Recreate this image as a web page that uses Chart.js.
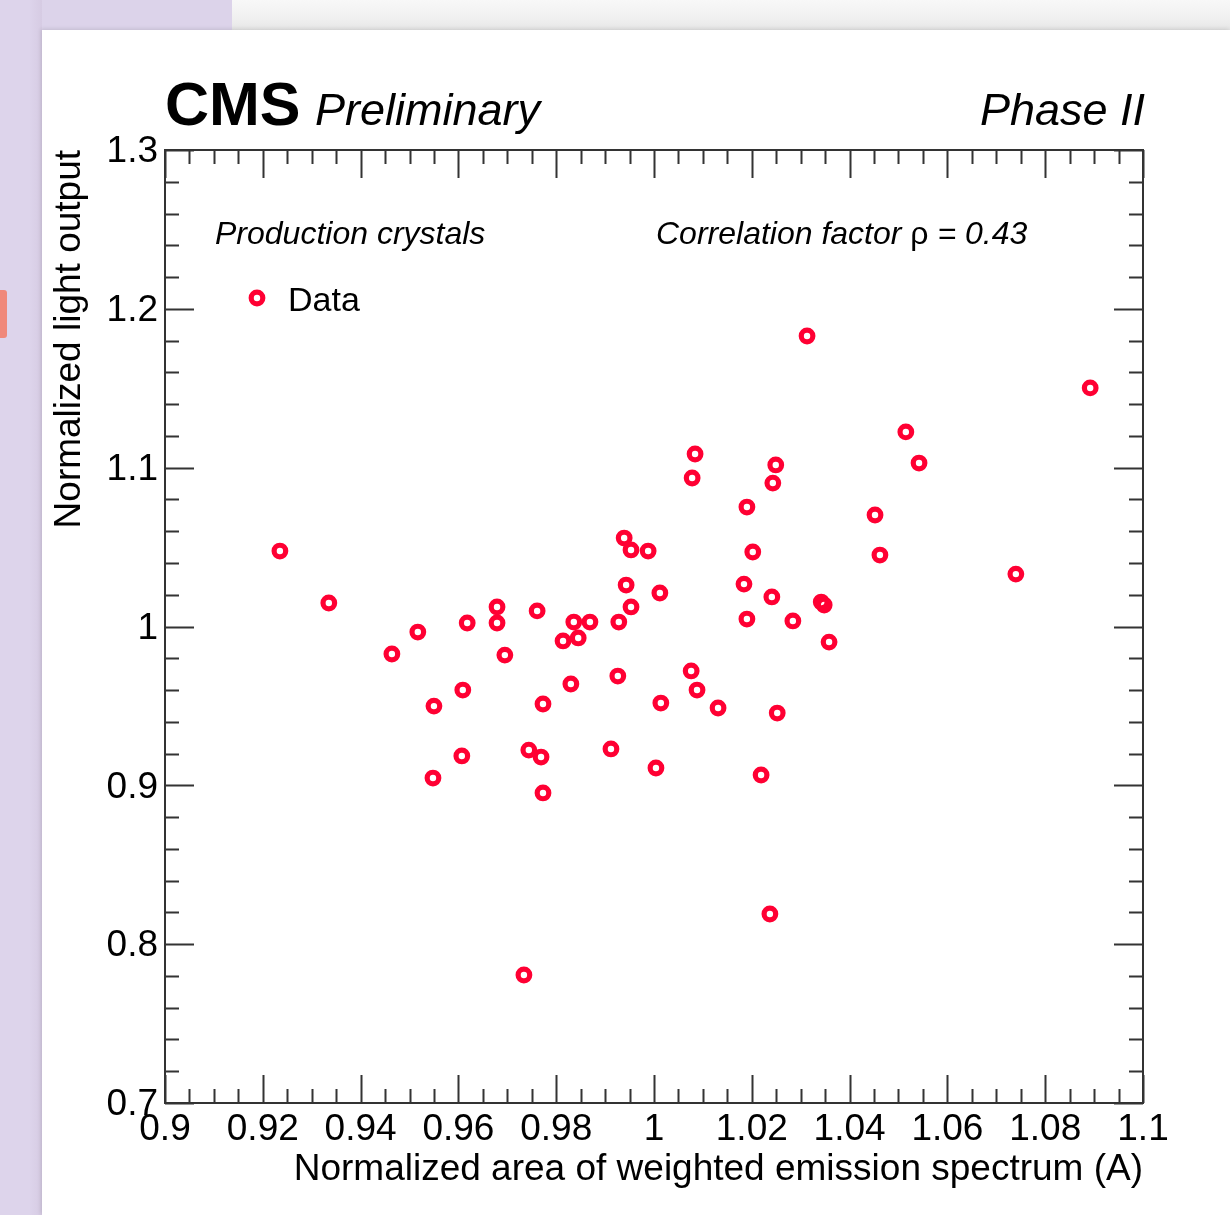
<!DOCTYPE html>
<html>
<head>
<meta charset="utf-8">
<script src="https://cdn.jsdelivr.net/npm/chart.js@4.4.1/dist/chart.umd.min.js"></script>
<style>
  body { margin: 0; background: #fff; width: 1230px; height: 1215px; overflow: hidden; position: relative; }
  .bg { position: absolute; }
  #lavTop { left: 0; top: 0; width: 232px; height: 30px; background: #dcd3ea; }
  #grayTop { left: 232px; top: 0; width: 998px; height: 30px; background: linear-gradient(#f8f8f8, #f0f0f0 60%, #e6e6e6); }
  #lavLeft { left: 0; top: 0; width: 42px; height: 1215px; background: linear-gradient(90deg, #ddd4eb 70%, #d6cbe3); }
  #salmon { left: 0; top: 290px; width: 7px; height: 48px; background: #f0887a; border-radius: 0 3px 3px 0; }
  #panel { left: 42px; top: 30px; width: 1188px; height: 1185px; background: #fff; box-shadow: -1px -1px 4px rgba(0,0,0,0.12); }
  canvas { position: absolute; left: 0; top: 0; }
</style>
</head>
<body>
<div class="bg" id="lavTop"></div>
<div class="bg" id="grayTop"></div>
<div class="bg" id="lavLeft"></div>
<div class="bg" id="salmon"></div>
<div class="bg" id="panel"></div>
<canvas id="myChart" width="1230" height="1215"></canvas>
<script>
'use strict';
// tick values and labels
let xTickValues = [0.9, 0.92, 0.94, 0.96, 0.98, 1, 1.02, 1.04, 1.06, 1.08, 1.1];
let xTickLabels = ['0.9', '0.92', '0.94', '0.96', '0.98', '1', '1.02', '1.04', '1.06', '1.08', '1.1'];
let yTickValues = [0.7, 0.8, 0.9, 1, 1.1, 1.2, 1.3];
let yTickLabels = ['0.7', '0.8', '0.9', '1', '1.1', '1.2', '1.3'];
let xMinorStep = 0.005;
let yMinorStep = 0.02;

// data points
let areaA = [
  0.9235, 0.9335, 0.9464, 0.9517, 0.9550, 0.9548, 0.9609, 0.9607, 0.9618, 0.9679,
  0.9679, 0.9695, 0.9761, 0.9744, 0.9769, 0.9773, 0.9773, 0.9734, 0.9814, 0.9836,
  0.9845, 0.9869, 0.9830, 0.9928, 0.9939, 0.9953, 0.9988, 0.9943, 0.9953, 0.9926,
  0.9912, 1.0012, 1.0014, 1.0004, 1.0084, 1.0078, 1.0076, 1.0088, 1.0131, 1.0190,
  1.0202, 1.0184, 1.0190, 1.0249, 1.0243, 1.0241, 1.0284, 1.0252, 1.0219, 1.0237,
  1.0313, 1.0342, 1.0348, 1.0358, 1.0452, 1.0462, 1.0515, 1.0542, 1.0740, 1.0892
];
let lightOutput = [
  1.0475, 1.0148, 0.9827, 0.9965, 0.9499, 0.9046, 0.9600, 0.9185, 1.0022, 1.0123,
  1.0022, 0.9820, 1.0098, 0.9222, 0.9178, 0.9512, 0.8952, 0.7806, 0.9909, 1.0028,
  0.9928, 1.0028, 0.9638, 1.0028, 1.0557, 1.0482, 1.0475, 1.0261, 1.0123, 0.9688,
  0.9229, 1.0211, 0.9518, 0.9109, 1.1086, 1.0935, 0.9720, 0.9600, 0.9487, 1.0752,
  1.0469, 1.0267, 1.0047, 1.1017, 1.0903, 1.0186, 1.0035, 0.9455, 0.9065, 0.8190,
  1.1829, 1.0154, 1.0135, 0.9902, 1.0702, 1.0450, 1.1225, 1.1029, 1.0330, 1.1502
];

let points = [];
for (let i = 0; i < areaA.length; i++) {
  points.push({ x: areaA[i], y: lightOutput[i] });
}

let fontFam = '"Liberation Sans", Arial, Helvetica, sans-serif';
let red = 'rgb(255, 0, 51)';

// frame, inner ticks and texts (ROOT style)
let rootStyle = {
  id: 'rootStyle',
  afterDatasetsDraw(chart) {
    let ctx = chart.ctx;
    let a = chart.chartArea;
    let xs = chart.scales.x;
    let ys = chart.scales.y;
    ctx.save();
    ctx.strokeStyle = '#333';
    ctx.lineWidth = 2;
    ctx.strokeRect(a.left, a.top, a.right - a.left, a.bottom - a.top);

    ctx.beginPath();
    let nx = Math.round((xs.max - xs.min) / xMinorStep);
    for (let i = 0; i <= nx; i++) {
      let v = xs.min + i * xMinorStep;
      let px = Math.round(xs.getPixelForValue(v)) + 0.5;
      let len = (i % 4 === 0) ? 28 : 14;
      ctx.moveTo(px, a.bottom); ctx.lineTo(px, a.bottom - len);
      ctx.moveTo(px, a.top); ctx.lineTo(px, a.top + len);
    }
    let ny = Math.round((ys.max - ys.min) / yMinorStep);
    for (let i = 0; i <= ny; i++) {
      let v = ys.min + i * yMinorStep;
      let py = Math.round(ys.getPixelForValue(v)) + 0.5;
      let len = (i % 5 === 0) ? 29 : 14;
      ctx.moveTo(a.left, py); ctx.lineTo(a.left + len, py);
      ctx.moveTo(a.right, py); ctx.lineTo(a.right - len, py);
    }
    ctx.stroke();

    ctx.fillStyle = '#000';
    ctx.textBaseline = 'alphabetic';
    ctx.textAlign = 'left';
    ctx.font = 'bold 61px ' + fontFam;
    ctx.fillText('CMS', 165, 125);
    ctx.font = 'italic 45px ' + fontFam;
    ctx.fillText('Preliminary', 315, 125);
    ctx.textAlign = 'right';
    ctx.fillText('Phase II', 1145, 125);

    ctx.textAlign = 'left';
    ctx.font = 'italic 32px ' + fontFam;
    ctx.fillText('Production crystals', 215, 244);

    let cx = 656;
    let s1 = 'Correlation factor ';
    ctx.fillText(s1, cx, 244);
    cx += ctx.measureText(s1).width;
    ctx.font = '32px ' + fontFam;
    ctx.fillText('\u03c1', cx, 244);
    cx += ctx.measureText('\u03c1').width;
    ctx.font = 'italic 32px ' + fontFam;
    ctx.fillText(' = 0.43', cx, 244);

    // legend
    ctx.beginPath();
    ctx.strokeStyle = red;
    ctx.lineWidth = 5.2;
    ctx.arc(257, 298, 5.8, 0, Math.PI * 2);
    ctx.stroke();
    ctx.font = '34px ' + fontFam;
    ctx.fillText('Data', 288, 311);

    // axis titles
    ctx.font = '37px ' + fontFam;
    ctx.textAlign = 'right';
    ctx.fillText('Normalized area of weighted emission spectrum (A)', a.right, 1180);
    ctx.translate(80, a.top);
    ctx.rotate(-Math.PI / 2);
    ctx.fillText('Normalized light output', 0, 0);
    ctx.restore();
  }
};

let ctx = document.getElementById('myChart').getContext('2d');
let myChart = new Chart(ctx, {
  type: 'scatter',
  data: {
    datasets: [{
      label: 'Data',
      data: points,
      pointStyle: 'circle',
      pointRadius: 5.8,
      pointBorderWidth: 5.2,
      borderColor: red,
      backgroundColor: 'rgba(0,0,0,0)'
    }]
  },
  options: {
    responsive: false,
    animation: false,
    devicePixelRatio: 1,
    layout: { padding: { left: 0, top: 150, right: 87, bottom: 0 } },
    plugins: { legend: { display: false }, tooltip: { enabled: false } },
    scales: {
      x: {
        type: 'linear',
        min: 0.9,
        max: 1.1,
        afterBuildTicks: function (s) { s.ticks = xTickValues.map(v => ({ value: v })); },
        afterFit: function (s) { s.height = 112; },
        grid: { display: false, drawTicks: false },
        border: { display: false },
        ticks: {
          autoSkip: false,
          maxRotation: 0,
          padding: 5,
          color: '#000',
          font: { family: fontFam, size: 37 },
          callback: function (v, i) { return xTickLabels[i]; }
        }
      },
      y: {
        type: 'linear',
        min: 0.7,
        max: 1.3,
        afterBuildTicks: function (s) { s.ticks = yTickValues.map(v => ({ value: v })); },
        afterFit: function (s) { s.width = 165; },
        grid: { display: false, drawTicks: false },
        border: { display: false },
        ticks: {
          autoSkip: false,
          padding: 7,
          labelOffset: 2,
          color: '#000',
          font: { family: fontFam, size: 37 },
          callback: function (v, i) { return yTickLabels[i]; }
        }
      }
    }
  },
  plugins: [rootStyle]
});
</script>
</body>
</html>
